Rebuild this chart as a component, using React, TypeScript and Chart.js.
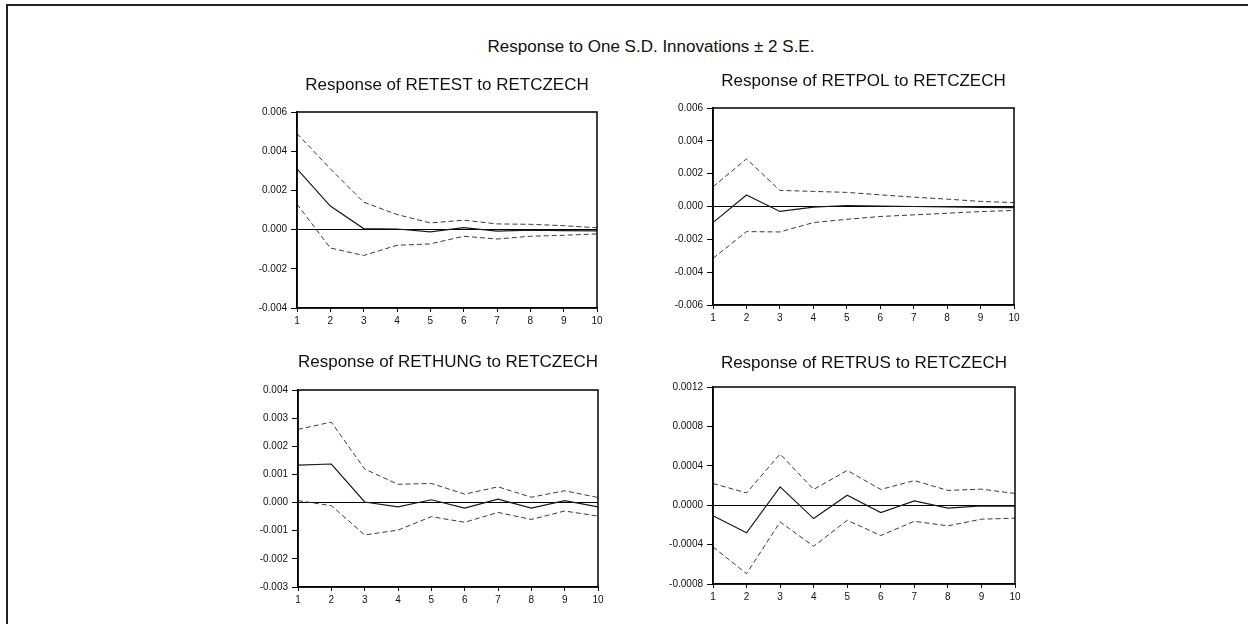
import React, { useEffect, useRef } from "react";
import { Chart, registerables } from "chart.js";

Chart.register(...registerables);

// ---------- data ----------
const periods = ["1", "2", "3", "4", "5", "6", "7", "8", "9", "10"];

const mainTitle = "Response to One S.D. Innovations \u00b1 2 S.E.";

const retestTitle = "Response of RETEST to RETCZECH";
const retestResp = [0.0031, 0.0012, 0.00005, 0.00003, -0.00012, 0.0001, -0.00008, -0.00003, -0.00005, -0.00007];
const retestUpper = [0.0049, 0.0031, 0.0014, 0.00077, 0.00034, 0.00048, 0.00029, 0.00027, 0.0002, 0.00009];
const retestLower = [0.0013, -0.00094, -0.00132, -0.0008, -0.00073, -0.00034, -0.00048, -0.00034, -0.00029, -0.00022];
const retestTicks = [-0.004, 0.006, 0.002];

const retpolTitle = "Response of RETPOL to RETCZECH";
const retpolResp = [-0.00098, 0.0007, -0.0003, -0.00004, 0.00006, 0.00002, 0.0, -0.00002, -0.00005, -0.00007];
const retpolUpper = [0.0012, 0.0029, 0.00098, 0.00092, 0.00086, 0.00071, 0.00057, 0.00045, 0.00031, 0.00024];
const retpolLower = [-0.00316, -0.00153, -0.00155, -0.00098, -0.00078, -0.00061, -0.00051, -0.00041, -0.00031, -0.00024];
const retpolTicks = [-0.006, 0.006, 0.002];

const rethungTitle = "Response of RETHUNG to RETCZECH";
const rethungResp = [0.00133, 0.00137, 0.00002, -0.00015, 0.0001, -0.0002, 0.00012, -0.0002, 0.00007, -0.00015];
const rethungUpper = [0.0026, 0.00286, 0.00119, 0.00065, 0.00068, 0.0003, 0.00056, 0.00019, 0.00042, 0.00018];
const rethungLower = [0.00007, -0.00011, -0.00115, -0.00098, -0.0005, -0.0007, -0.00035, -0.0006, -0.0003, -0.00048];
const rethungTicks = [-0.003, 0.004, 0.001];

const retrusTitle = "Response of RETRUS to RETCZECH";
const retrusResp = [-0.000108, -0.00028, 0.000186, -0.000136, 0.000102, -0.000075, 0.000044, -0.00003, -0.000007, -0.00001];
const retrusUpper = [0.00022, 0.000125, 0.000519, 0.00016, 0.000353, 0.00016, 0.00025, 0.00015, 0.000163, 0.000119];
const retrusLower = [-0.000424, -0.000695, -0.00017, -0.000417, -0.000153, -0.000308, -0.000163, -0.00021, -0.000142, -0.000132];
const retrusTicks = [-0.0008, 0.0012, 0.0004];

// ---------- layout ----------
const FONT = "'Liberation Sans', Arial, Helvetica, sans-serif";
const Y_AXIS_W = 48;
const X_AXIS_H = 22;
const PAD_L = 4;
const PAD_R = 12;
const PAD_B = 4;

type PanelSpec = {
  title: string;
  resp: number[];
  upper: number[];
  lower: number[];
  ticks: number[];
  decimals: number;
  box: { l: number; r: number; t: number; b: number; ty: number };
};

const panels: PanelSpec[] = [
  { title: retestTitle, resp: retestResp, upper: retestUpper, lower: retestLower, ticks: retestTicks, decimals: 3, box: { l: 297, r: 597, t: 112, b: 308, ty: 85 } },
  { title: retpolTitle, resp: retpolResp, upper: retpolUpper, lower: retpolLower, ticks: retpolTicks, decimals: 3, box: { l: 713, r: 1014, t: 108, b: 305, ty: 81 } },
  { title: rethungTitle, resp: rethungResp, upper: rethungUpper, lower: rethungLower, ticks: rethungTicks, decimals: 3, box: { l: 298, r: 598, t: 390, b: 587, ty: 362 } },
  { title: retrusTitle, resp: retrusResp, upper: retrusUpper, lower: retrusLower, ticks: retrusTicks, decimals: 4, box: { l: 713, r: 1015, t: 387, b: 584, ty: 363 } },
];

const framePlugin = {
  id: "frame",
  afterDraw(chart: any) {
    const { ctx, chartArea } = chart;
    ctx.save();
    ctx.strokeStyle = "#000";
    ctx.lineWidth = 1.5;
    ctx.strokeRect(chartArea.left, chartArea.top, chartArea.right - chartArea.left, chartArea.bottom - chartArea.top);
    ctx.restore();
  },
};

function Panel({ spec }: { spec: PanelSpec }) {
  const ref = useRef<HTMLCanvasElement | null>(null);
  const { box } = spec;
  const left = box.l - Y_AXIS_W - PAD_L;
  const top = box.ty - 14;
  const width = box.r + PAD_R - left;
  const height = box.b + X_AXIS_H + PAD_B - top;
  const titlePadBottom = box.t - top - 4 - 17 * 1.2;

  useEffect(() => {
    if (!ref.current) return;
    const dashed = {
      borderColor: "#3a3a3a",
      borderWidth: 1,
      borderDash: [5, 3],
      pointRadius: 0,
      tension: 0,
      fill: false,
    };
    const chart = new Chart(ref.current, {
      type: "line",
      data: {
        labels: periods,
        datasets: [
          { label: "upper", data: spec.upper, ...dashed },
          { label: "lower", data: spec.lower, ...dashed },
          {
            label: "response",
            data: spec.resp,
            borderColor: "#1a1a1a",
            borderWidth: 1.2,
            pointRadius: 0,
            tension: 0,
            fill: false,
          },
        ],
      },
      options: {
        animation: false,
        responsive: false,
        devicePixelRatio: 1,
        layout: { padding: { left: PAD_L, right: PAD_R, top: 0, bottom: PAD_B } },
        plugins: {
          legend: { display: false },
          tooltip: { enabled: false },
          title: {
            display: true,
            fullSize: false,
            text: spec.title,
            color: "#111",
            font: { family: FONT, size: 17, weight: "normal" as any, lineHeight: 1.2 },
            padding: { top: 4, bottom: titlePadBottom },
          },
        },
        scales: {
          x: {
            type: "category",
            offset: false,
            afterFit: (s: any) => {
              s.height = X_AXIS_H;
            },
            grid: { display: true, drawOnChartArea: false, drawTicks: true, tickLength: 4, tickColor: "#000", color: "#000" },
            border: { display: true, color: "#000", width: 1.5 },
            ticks: {
              color: "#111",
              padding: 3,
              maxRotation: 0,
              autoSkip: false,
              font: { family: FONT, size: 10 },
            },
          },
          y: {
            min: spec.ticks[0],
            max: spec.ticks[1],
            afterFit: (s: any) => {
              s.width = Y_AXIS_W;
            },
            grid: {
              display: true,
              drawOnChartArea: true,
              drawTicks: true,
              tickLength: 6,
              tickColor: "#000",
              lineWidth: 1,
              color: (c: any) => (c.tick && Math.abs(c.tick.value) < 1e-12 ? "#000" : "rgba(0,0,0,0)"),
            },
            border: { display: true, color: "#000", width: 1.5 },
            ticks: {
              stepSize: spec.ticks[2],
              color: "#111",
              padding: 4,
              font: { family: FONT, size: 10 },
              callback: (v: any) => Number(v).toFixed(spec.decimals),
            },
          },
        },
      },
      plugins: [framePlugin],
    });
    return () => chart.destroy();
  }, []);

  return (
    <canvas
      ref={ref}
      width={width}
      height={height}
      style={{ position: "absolute", left, top, width, height }}
    />
  );
}

export default function App() {
  return (
    <div
      style={{
        position: "absolute",
        left: 0,
        top: 0,
        width: 1248,
        height: 624,
        background: "#fff",
        overflow: "hidden",
        fontFamily: FONT,
      }}
    >
      <div style={{ position: "absolute", left: 6, top: 4, width: 1242, height: 2, background: "#222" }} />
      <div style={{ position: "absolute", left: 6, top: 4, width: 2, height: 620, background: "#222" }} />
      <div
        style={{
          position: "absolute",
          left: 0,
          width: 1302,
          top: 36,
          textAlign: "center",
          fontSize: 17,
          lineHeight: "22px",
          color: "#111",
          whiteSpace: "nowrap",
        }}
      >
        {mainTitle}
      </div>
      {panels.map((p, i) => (
        <Panel key={i} spec={p} />
      ))}
    </div>
  );
}
